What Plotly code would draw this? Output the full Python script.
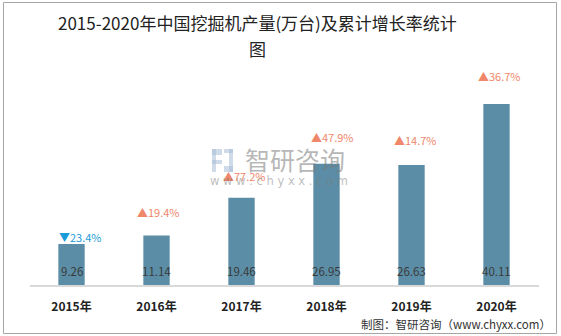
import plotly.graph_objects as go

years = ["2015年", "2016年", "2017年", "2018年", "2019年", "2020年"]
output = [9.26, 11.14, 19.46, 26.95, 26.63, 40.11]
growth = [-23.4, 19.4, 77.2, 47.9, 14.7, 36.7]

title_lines = ["2015-2020年中国挖掘机产量(万台)及累计增长率统计", "图"]
source = "制图：智研咨询（www.chyxx.com）"

CJK = "Noto Sans CJK SC, Noto Sans, sans-serif"
BAR = "#5b8ea6"
UP = "#f0866a"
DOWN = "#1b9bd8"

fig = go.Figure()
fig.add_trace(go.Bar(
    x=years, y=output, width=0.31,
    marker=dict(color=BAR, line=dict(width=0)),
    hoverinfo="skip",
))


def px(xp):
    return (xp - 29) / 510


def py(yp):
    return (286 - yp) / 227


# value labels at bottom inside bars
for yr, v in zip(years, output):
    fig.add_annotation(x=yr, y=0, text=f"{v:.2f}", showarrow=False,
                       yanchor="bottom", yshift=5,
                       font=dict(family=CJK, size=11.5, color="#3a3a3a"))

# growth labels above bars
yshifts = [7, 23, 22, 27, 25, 28]
xshifts = [9, 2, 3, 6, 4, 3]
for yr, v, g, ys, xs in zip(years, output, growth, yshifts, xshifts):
    sym = "▲" if g >= 0 else "▼"
    col = UP if g >= 0 else DOWN
    fig.add_annotation(x=yr, y=v, text=f"{sym}{abs(g):.1f}%", showarrow=False,
                       yanchor="middle", yshift=ys, xshift=xs,
                       font=dict(family=CJK, size=11, color=col))

# watermark
fig.add_annotation(xref="paper", yref="paper", x=px(295), y=py(159),
                   text="智研咨询", showarrow=False, xanchor="center", yanchor="middle",
                   font=dict(family=CJK, size=25, color="rgba(120,120,120,0.55)"))
fig.add_annotation(xref="paper", yref="paper", x=px(279), y=py(181),
                   text="w w w . c h y x x . c o m", showarrow=False, xanchor="center",
                   yanchor="middle",
                   font=dict(family="DejaVu Sans", size=11.5, color="rgba(120,120,120,0.5)"))

# watermark icon (simple blocks)
icon = [(212, 149, 222, 155), (212, 149, 216, 172), (212, 160, 222, 164),
        (224, 149, 233, 153), (229, 149, 233, 172), (224, 166, 233, 172)]
for x0, y0, x1, y1 in icon:
    fig.add_shape(type="rect", xref="paper", yref="paper",
                  x0=px(x0), x1=px(x1), y0=py(y0), y1=py(y1),
                  line=dict(width=0), fillcolor="rgba(170,190,215,0.55)", layer="above")

# axis baseline
fig.add_shape(type="line", xref="paper", yref="paper", x0=px(30), x1=px(539),
              y0=py(286), y1=py(286), line=dict(color="#d9d9d9", width=2))

# outer border
fig.add_shape(type="rect", xref="paper", yref="paper", x0=px(3.5), x1=px(556.5),
              y0=py(333.5), y1=py(2.5), line=dict(color="#a6a6a6", width=1))

# title (two lines)
for line, yc in zip(title_lines, [22, 48]):
    fig.add_annotation(xref="paper", yref="paper", x=px(257), y=py(yc), text=line,
                       showarrow=False, xanchor="center", yanchor="middle",
                       font=dict(family=CJK, size=17, color="#222222"))

# source
fig.add_annotation(xref="paper", yref="paper", x=px(553), y=py(324), text=source,
                   showarrow=False, xanchor="right", yanchor="middle",
                   font=dict(family=CJK, size=11.5, color="#333333"))

fig.update_layout(
    width=561, height=336,
    margin=dict(l=29, r=22, t=59, b=50),
    paper_bgcolor="white", plot_bgcolor="white",
    showlegend=False,
    xaxis=dict(showline=False, showgrid=False, ticks="", zeroline=False,
               tickfont=dict(family=CJK, size=12, color="#222222", weight="bold"),
               ticklabelstandoff=12),
    yaxis=dict(range=[0, 50], visible=False, showgrid=False, zeroline=False),
    bargap=0.69,
)

fig.write_html("out.html")
